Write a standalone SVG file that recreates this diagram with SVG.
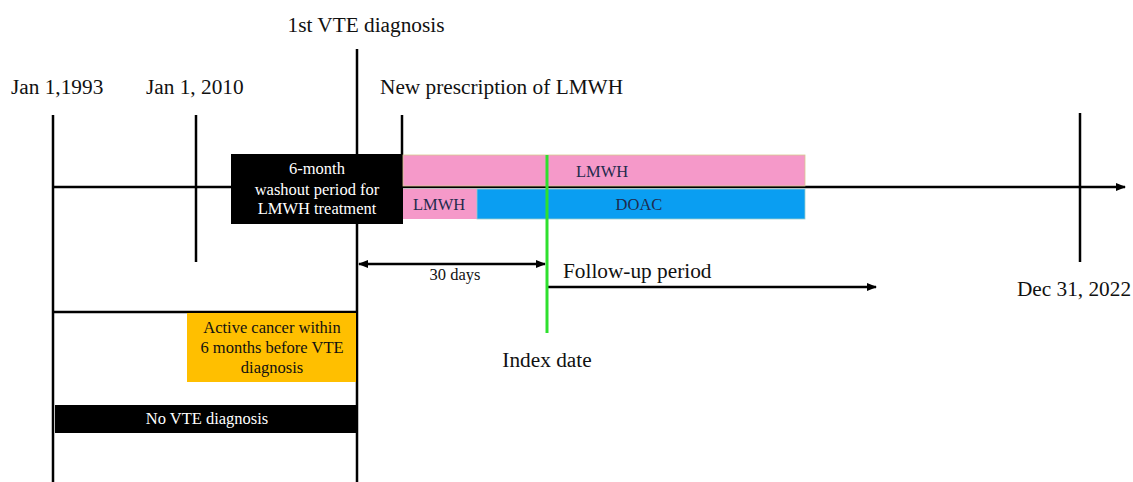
<svg xmlns="http://www.w3.org/2000/svg" width="1133" height="482" viewBox="0 0 1133 482">
<defs>
<marker id="ah" markerWidth="10" markerHeight="8" refX="9" refY="4" orient="auto" markerUnits="userSpaceOnUse"><path d="M0,0 L10,4 L0,8 z" fill="#000"/></marker>
<marker id="ahs" markerWidth="10" markerHeight="8" refX="1" refY="4" orient="auto" markerUnits="userSpaceOnUse"><path d="M10,0 L0,4 L10,8 z" fill="#000"/></marker>
</defs>
<style>
text{font-family:"Liberation Serif","Times New Roman",serif;fill:#111}
.l{font-size:21.3px}
.s{font-size:16.5px}
.w{fill:#fff;font-size:16.5px}
.b{fill:#1f2b4d;font-size:16.5px}
.ln{stroke:#000;stroke-width:2.5;fill:none}
</style>
<rect width="1133" height="482" fill="#fff"/>
<g id="connectors">
<line class="ln" x1="53" y1="187" x2="1125" y2="187" marker-end="url(#ah)"/>
<line class="ln" x1="53" y1="115" x2="53" y2="482"/>
<line class="ln" x1="196" y1="115" x2="196" y2="262"/>
<line class="ln" x1="357" y1="49" x2="357" y2="482"/>
<line class="ln" x1="402" y1="115" x2="402" y2="160"/>
<line class="ln" x1="1080" y1="113" x2="1080" y2="262"/>
<line class="ln" x1="53" y1="312" x2="357" y2="312"/>
<line class="ln" x1="359" y1="264" x2="545" y2="264" marker-start="url(#ahs)" marker-end="url(#ah)"/>
<line class="ln" x1="548" y1="287" x2="876" y2="287" marker-end="url(#ah)"/>
</g>
<g id="washout">
<rect x="231" y="154" width="172" height="70" fill="#000"/>
<text class="w" x="317" y="174" text-anchor="middle">6-month</text>
<text class="w" x="317" y="195" text-anchor="middle">washout period for</text>
<text class="w" x="317" y="214" text-anchor="middle">LMWH treatment</text>
</g>
<g id="lmwh-top">
<rect x="403" y="155" width="402" height="31" fill="#f599c9" stroke="#d8c890" stroke-width="0.8"/>
<text class="b" x="602" y="177" text-anchor="middle">LMWH</text>
</g>
<g id="lmwh-bottom">
<rect x="403" y="189" width="74" height="30" fill="#f599c9"/>
<text class="b" x="439" y="210" text-anchor="middle">LMWH</text>
</g>
<g id="doac">
<rect x="477" y="189" width="328" height="30" fill="#0a9ef2" stroke="#9cc" stroke-width="0.8"/>
<text class="b" x="639" y="210" text-anchor="middle">DOAC</text>
</g>
<g id="index-line">
<line x1="547" y1="155" x2="547" y2="333" stroke="#2ee02e" stroke-width="3"/>
</g>
<g id="cancer">
<rect x="187" y="313" width="169" height="69" fill="#ffbf00"/>
<text class="s" x="272" y="333" text-anchor="middle">Active cancer within</text>
<text class="s" x="272" y="353" text-anchor="middle">6 months before VTE</text>
<text class="s" x="272" y="373" text-anchor="middle">diagnosis</text>
</g>
<g id="novte">
<rect x="55" y="405" width="302" height="28" fill="#000"/>
<text class="w" x="207" y="424" text-anchor="middle">No VTE diagnosis</text>
</g>
<g id="labels">
<text class="l" x="366" y="32" text-anchor="middle">1st VTE diagnosis</text>
<text class="l" x="11" y="94">Jan 1,1993</text>
<text class="l" x="146" y="94">Jan 1, 2010</text>
<text class="l" x="380" y="94">New prescription of LMWH</text>
<text class="s" x="455" y="280" text-anchor="middle">30 days</text>
<text class="l" x="563" y="278">Follow-up period</text>
<text class="l" x="547" y="367" text-anchor="middle">Index date</text>
<text class="l" x="1074" y="296" text-anchor="middle">Dec 31, 2022</text>
</g>
</svg>
